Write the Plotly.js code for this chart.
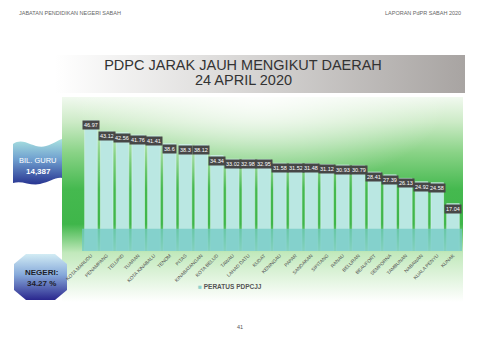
<!DOCTYPE html>
<html>
<head>
<meta charset="utf-8">
<script src="https://cdn.plot.ly/plotly-3.0.1.min.js"></script>
<style>html,body{margin:0;padding:0;background:#fff;}#chart{width:480px;height:339px;}</style>
</head>
<body>
<div id="chart"></div>
<script>
// ---- data ----
const districts = ["KOTA MARUDU","PENAMPANG","TELUPID","TUARAN","KOTA KINABALU","TENOM","PITAS","KINABATANGAN","KOTA BELUD","TAWAU","LAHAD DATU","KUDAT","KENINGAU","PAPAR","SANDAKAN","SIPITANG","RANAU","BELURAN","BEAUFORT","SEMPORNA","TAMBUNAN","NABAWAN","KUALA PENYU","KUNAK"];
const peratus = [46.97,43.12,42.56,41.76,41.41,38.6,38.3,38.12,34.34,33.02,32.98,32.95,31.58,31.52,31.48,31.12,30.93,30.79,28.41,27.39,26.13,24.92,24.58,17.04];
const seriesName = "PERATUS PDPCJJ";
const titleLines = ["PDPC JARAK JAUH MENGIKUT DAERAH","24 APRIL 2020"];
const headerLeft = "JABATAN PENDIDIKAN NEGERI SABAH";
const headerRight = "LAPORAN PdPR SABAH 2020";
const guruLabel = "BIL. GURU";
const guruValue = "14,387";
const negeriLabel = "NEGERI:";
const negeriValue = "34.27 %";
const pageNo = "41";

// ---- geometry helpers (page px -> paper) ----
const W = 480, H = 339, ML = 82, MR = 18, MT = 112, MB = 88;
const PW = W - ML - MR, PH = H - MT - MB;
const px = v => (v - ML) / PW;
const py = v => (H - MB - v) / PH;

// ---- decorative background (SVG) ----
const svg = `<svg xmlns="http://www.w3.org/2000/svg" width="480" height="339" viewBox="0 0 480 339" preserveAspectRatio="none">
<defs>
<linearGradient id="tb" x1="0" y1="0" x2="1" y2="0">
<stop offset="0" stop-color="#ffffff"/><stop offset="0.35" stop-color="#e2e1e0"/><stop offset="1" stop-color="#a8a4a2"/></linearGradient>
<linearGradient id="pg" x1="0" y1="97" x2="0" y2="302" gradientUnits="userSpaceOnUse">
<stop offset="0" stop-color="#f1f9ef"/><stop offset="0.12" stop-color="#cdebc7"/><stop offset="0.27" stop-color="#8ad387"/>
<stop offset="0.45" stop-color="#45b94f"/><stop offset="0.62" stop-color="#3fb64a"/><stop offset="0.76" stop-color="#c2e9bc"/>
<stop offset="1" stop-color="#ffffff"/></linearGradient>
<radialGradient id="rg" cx="260" cy="95" r="190" gradientUnits="userSpaceOnUse" gradientTransform="translate(260 95) scale(1 0.5) translate(-260 -95)">
<stop offset="0" stop-color="#ffffff" stop-opacity="0.85"/><stop offset="1" stop-color="#ffffff" stop-opacity="0"/></radialGradient>
<linearGradient id="fg" x1="0" y1="0" x2="0" y2="1">
<stop offset="0" stop-color="#a9e2e0"/><stop offset="0.45" stop-color="#6f9fcf"/><stop offset="1" stop-color="#283592"/></linearGradient>
<linearGradient id="og" x1="0" y1="0" x2="0" y2="1">
<stop offset="0" stop-color="#d2ecf4"/><stop offset="0.45" stop-color="#86a9da"/><stop offset="1" stop-color="#2a278e"/></linearGradient>
</defs>
<rect x="55" y="55" width="410" height="38" fill="url(#tb)"/>
<rect x="62" y="97" width="401" height="205" fill="url(#pg)"/>
<rect x="62" y="97" width="401" height="120" fill="url(#rg)"/>
<path d="M13,144 C24,136 34,150 46,146 C53,144 58,140 62,139 L62,178 C55,177 50,182 40,184 C30,186 22,180 13,183 Z" fill="url(#fg)"/>
<path d="M26,254 L55,254 L67,264 L67,290 L55,300 L26,300 L14,290 L14,264 Z" fill="url(#og)"/>
</svg>`;
const bgSrc = "data:image/svg+xml;charset=utf-8," + encodeURIComponent(svg);

// ---- traces ----
const trace = {
  type: "bar",
  x: districts,
  y: peratus,
  name: seriesName,
  marker: {color: "#bae7e2", line: {color: "#d6f3ef", width: 0.6}},
  hoverinfo: "x+y",
  showlegend: false
};

// ---- annotations ----
const valueLabels = districts.map((d, i) => ({
  x: d, y: peratus[i], xref: "x", yref: "y",
  text: String(peratus[i]), showarrow: false,
  xanchor: "center", yanchor: "top", yshift: 0,
  bgcolor: "#474747", borderpad: 1,
  font: {family: "Liberation Sans, Arial, sans-serif", size: 5.5, color: "#ffffff"}
}));

const fontS = "Liberation Sans, Arial, sans-serif";
const extra = [
  {x: px(17), y: py(13), xref: "paper", yref: "paper", text: headerLeft, showarrow: false, xanchor: "left", yanchor: "middle", font: {family: fontS, size: 5.5, color: "#666"}},
  {x: px(463), y: py(13), xref: "paper", yref: "paper", text: headerRight, showarrow: false, xanchor: "right", yanchor: "middle", font: {family: fontS, size: 5.5, color: "#666"}},
  {x: px(243), y: py(80), xref: "paper", yref: "paper", text: titleLines[1], showarrow: false, xanchor: "center", yanchor: "middle", font: {family: fontS, size: 14.5, color: "#333"}},
  {x: px(38), y: py(160), xref: "paper", yref: "paper", text: guruLabel, showarrow: false, xanchor: "center", yanchor: "middle", font: {family: fontS, size: 7.5, color: "#ffffff"}},
  {x: px(38), y: py(171), xref: "paper", yref: "paper", text: "<b>" + guruValue + "</b>", showarrow: false, xanchor: "center", yanchor: "middle", font: {family: fontS, size: 8, color: "#ffffff"}},
  {x: px(41), y: py(272), xref: "paper", yref: "paper", text: "<b>" + negeriLabel + "</b>", showarrow: false, xanchor: "center", yanchor: "middle", font: {family: fontS, size: 8, color: "#1e1e2a"}},
  {x: px(41), y: py(283), xref: "paper", yref: "paper", text: "<b>" + negeriValue + "</b>", showarrow: false, xanchor: "center", yanchor: "middle", font: {family: fontS, size: 8, color: "#1e1e2a"}},
  {x: px(196), y: py(286), xref: "paper", yref: "paper", text: '<span style="color:#8fd3cd">■</span> <b>' + seriesName + '</b>', showarrow: false, xanchor: "left", yanchor: "middle", font: {family: fontS, size: 6.5, color: "#555"}},
  {x: px(240), y: py(327), xref: "paper", yref: "paper", text: pageNo, showarrow: false, xanchor: "center", yanchor: "middle", font: {family: fontS, size: 5.5, color: "#555"}}
];

const layout = {
  width: W, height: H,
  margin: {l: ML, r: MR, t: MT, b: MB, pad: 0},
  paper_bgcolor: "#ffffff",
  plot_bgcolor: "rgba(0,0,0,0)",
  title: {text: titleLines[0], x: 243 / W, xanchor: "center", xref: "container", y: 1 - 65 / H, yanchor: "middle", yref: "container",
          font: {family: fontS, size: 14.5, color: "#333"}},
  bargap: 0.2,
  xaxis: {type: "category", tickangle: -45, ticks: "", showgrid: false, showline: false, zeroline: false,
          tickfont: {family: fontS, size: 4.8, color: "#555"}, automargin: false},
  yaxis: {range: [0, 50], visible: false, showgrid: false, zeroline: false, fixedrange: true},
  showlegend: false,
  images: [{source: bgSrc, xref: "paper", yref: "paper", x: px(0), y: py(0), sizex: W / PW, sizey: H / PH,
            xanchor: "left", yanchor: "top", sizing: "stretch", layer: "below"}],
  shapes: [{type: "rect", xref: "paper", yref: "y", x0: 0, x1: 1, y0: 0, y1: 8, fillcolor: "#6fc9c3", opacity: 0.72, line: {width: 0}, layer: "above"}],
  annotations: valueLabels.concat(extra)
};

Plotly.newPlot("chart", [trace], layout, {staticPlot: true, displayModeBar: false});
</script>
</body>
</html>
